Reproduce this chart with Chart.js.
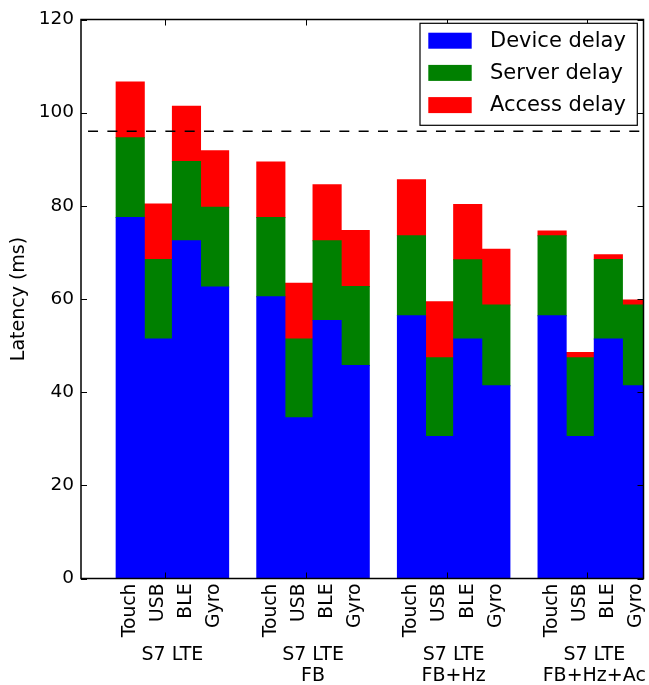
<!DOCTYPE html>
<html>
<head>
<meta charset="utf-8">
<script src="https://cdn.jsdelivr.net/npm/chart.js@4/dist/chart.umd.min.js"></script>
<style>
  html, body { margin: 0; padding: 0; background: #fff; }
  canvas { display: block; }
</style>
</head>
<body>
<canvas id="c" width="649" height="685"></canvas>
<script>
// Latency breakdown per input type, for four S7 LTE configurations
const barLabels = [
  'Touch', 'USB', 'BLE', 'Gyro',
  'Touch', 'USB', 'BLE', 'Gyro',
  'Touch', 'USB', 'BLE', 'Gyro',
  'Touch', 'USB', 'BLE', 'Gyro'
];
const barPositions = [0, 1, 2, 3, 5, 6, 7, 8, 10, 11, 12, 13, 15, 16, 17, 18];

const deviceDelay = [
  77.5, 51.4, 72.5, 62.6,
  60.5, 34.5, 55.4, 45.7,
  56.4, 30.5, 51.4, 41.4,
  56.4, 30.5, 51.4, 41.4
];
const serverDelay = [
  17.1, 17.1, 17.0, 17.1,
  17.0, 16.9, 17.1, 17.0,
  17.2, 16.9, 17.0, 17.3,
  17.2, 16.9, 17.1, 17.3
];
const accessDelay = [
  12.0, 11.9, 11.9, 12.1,
  11.9, 12.0, 12.0, 12.0,
  12.0, 12.0, 11.9, 12.0,
  1.0, 1.1, 1.0, 1.1
];

const groupLabels = [
  ['S7 LTE'],
  ['S7 LTE', 'FB'],
  ['S7 LTE', 'FB+Hz'],
  ['S7 LTE', 'FB+Hz+Ac']
];
const groupLabelPositions = [1.5, 6.5, 11.5, 16.5];
const groupTickPositions = [1.25, 6.25, 11.25, 16.25];

const thresholdMs = 96;
const thresholdStart = -1.5;

const FONT = 'DejaVu Sans';

function points(values) {
  return values.map((v, i) => ({ x: barPositions[i], y: v }));
}

// Frame, inward tick marks, dashed threshold and boxed legend
const decorations = {
  id: 'decorations',
  afterDatasetsDraw(chart) {
    const { ctx, chartArea: a, scales: { x, y } } = chart;
    ctx.save();

    // threshold line
    const ty = y.getPixelForValue(thresholdMs);
    ctx.beginPath();
    ctx.setLineDash([10, 9.33]);
    ctx.lineWidth = 1.5;
    ctx.strokeStyle = '#000';
    ctx.moveTo(x.getPixelForValue(thresholdStart), ty);
    ctx.lineTo(a.right, ty);
    ctx.stroke();
    ctx.setLineDash([]);

    // tick marks pointing inward
    ctx.lineWidth = 1;
    ctx.beginPath();
    y.ticks.forEach(t => {
      const py = Math.round(y.getPixelForValue(t.value)) + 0.5;
      ctx.moveTo(a.left, py); ctx.lineTo(a.left + 6, py);
      ctx.moveTo(a.right, py); ctx.lineTo(a.right - 6, py);
    });
    groupTickPositions.forEach(v => {
      const px = Math.round(x.getPixelForValue(v)) + 0.5;
      ctx.moveTo(px, a.bottom); ctx.lineTo(px, a.bottom - 6);
      ctx.moveTo(px, a.top); ctx.lineTo(px, a.top + 6);
    });
    ctx.stroke();

    // axes frame
    ctx.lineWidth = 1.5;
    ctx.strokeRect(a.left, a.top, a.right - a.left, a.bottom - a.top);

    // legend
    const lx = a.right - 6.2, ly = a.top + 3.8;
    const boxW = 217.3, boxH = 102;
    const left = lx - boxW;
    ctx.fillStyle = '#fff';
    ctx.fillRect(left, ly, boxW, boxH);
    ctx.lineWidth = 1.2;
    ctx.strokeStyle = '#000';
    ctx.strokeRect(left, ly, boxW, boxH);
    ctx.font = '21px "' + FONT + '"';
    ctx.textBaseline = 'middle';
    ctx.textAlign = 'left';
    chart.data.datasets.forEach((ds, i) => {
      const cy = ly + 17.4 + i * 32.2;
      ctx.fillStyle = ds.backgroundColor;
      ctx.fillRect(left + 8.3, cy - 8, 43.4, 16);
      ctx.fillStyle = '#000';
      ctx.fillText(ds.label, left + 70, cy + 0.5);
    });

    ctx.restore();
  }
};

new Chart(document.getElementById('c'), {
  type: 'bar',
  data: {
    datasets: [
      { label: 'Device delay', data: points(deviceDelay), backgroundColor: '#0000ff' },
      { label: 'Server delay', data: points(serverDelay), backgroundColor: '#008000' },
      { label: 'Access delay', data: points(accessDelay), backgroundColor: '#ff0000' }
    ]
  },
  options: {
    responsive: false,
    devicePixelRatio: 1,
    animation: false,
    layout: { padding: { top: 19.5, right: 5.5, bottom: 0, left: 0 } },
    datasets: {
      bar: { barPercentage: 1, categoryPercentage: 1, borderWidth: 0, inflateAmount: 0.5, clip: 0 }
    },
    plugins: { legend: { display: false }, tooltip: { enabled: false } },
    scales: {
      x: {
        type: 'linear',
        stacked: true,
        offset: false,
        min: -1.75,
        max: 18.25,
        weight: 0,
        grid: { display: false, drawTicks: false },
        border: { display: false },
        afterBuildTicks(scale) {
          scale.ticks = barPositions.map(v => ({ value: v }));
        },
        afterFit(scale) {
          scale.height = 64;
          scale.paddingLeft = 0;
          scale.paddingRight = 0;
        },
        ticks: {
          autoSkip: false,
          minRotation: 90,
          maxRotation: 90,
          padding: 5,
          color: '#000',
          font: { family: FONT, size: 18.75 },
          callback: (value, index) => barLabels[index]
        }
      },
      x2: {
        type: 'linear',
        position: 'bottom',
        offset: false,
        min: -1.75,
        max: 18.25,
        weight: 1,
        grid: { display: false, drawTicks: false },
        border: { display: false },
        afterBuildTicks(scale) {
          scale.ticks = groupLabelPositions.map(v => ({ value: v }));
        },
        afterFit(scale) {
          scale.height = 42.5;
          scale.paddingLeft = 0;
          scale.paddingRight = 0;
        },
        ticks: {
          autoSkip: false,
          maxRotation: 0,
          minRotation: 0,
          padding: 2,
          color: '#000',
          font: { family: FONT, size: 19, lineHeight: 1.1 },
          callback: (value, index) => groupLabels[index]
        }
      },
      y: {
        type: 'linear',
        stacked: true,
        min: 0,
        max: 120,
        grid: { display: false, drawTicks: false },
        border: { display: false },
        afterFit(scale) {
          scale.width = 81;
        },
        ticks: {
          stepSize: 20,
          padding: 7,
          color: '#000',
          font: { family: FONT, size: 18.5 }
        },
        title: {
          display: true,
          text: 'Latency (ms)',
          color: '#000',
          padding: { top: 7.5, bottom: 0 },
          font: { family: FONT, size: 19 }
        }
      }
    }
  },
  plugins: [decorations]
});
</script>
</body>
</html>
